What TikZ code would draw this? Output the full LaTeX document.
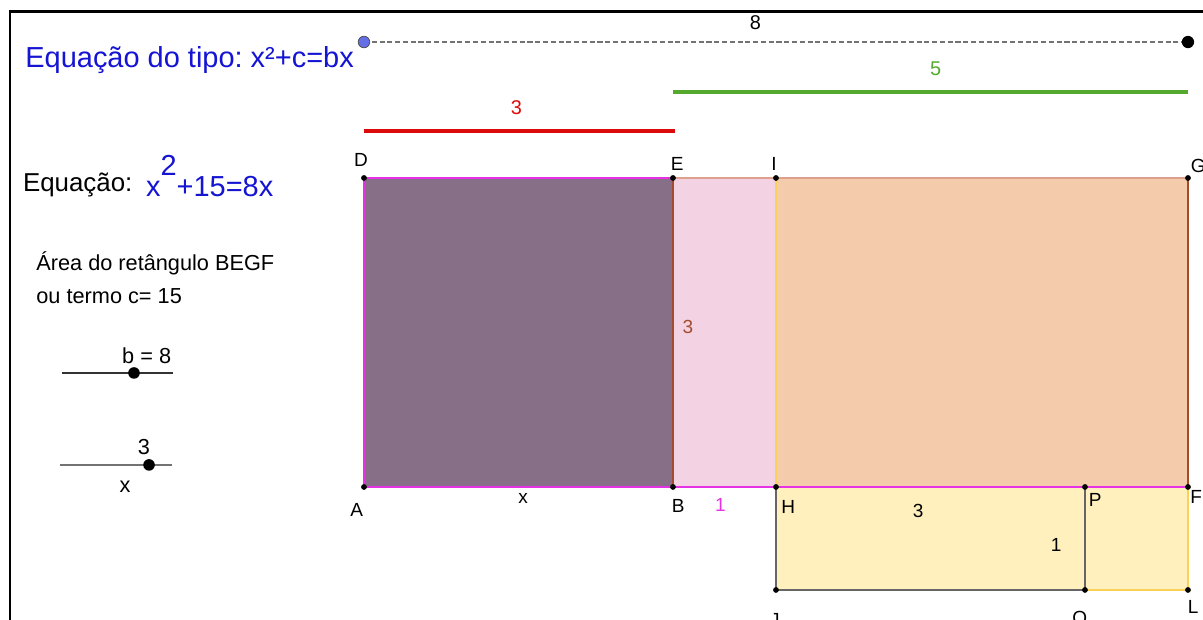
\documentclass[tikz,border=0pt]{standalone}
\usepackage{fontspec}
\setmainfont{Liberation Sans}
\usetikzlibrary{calc}
\frenchspacing

\definecolor{azul}{RGB}{20,20,210}
\definecolor{roxo}{RGB}{134,111,135}
\definecolor{rosa}{RGB}{243,210,228}
\definecolor{laranja}{RGB}{244,204,172}
\definecolor{amarelo}{RGB}{255,240,190}
\definecolor{magenta2}{RGB}{228,50,228}
\definecolor{marrom}{RGB}{165,75,45}
\definecolor{salmao}{RGB}{222,160,140}
\definecolor{ouro}{RGB}{250,210,90}
\definecolor{verde}{RGB}{85,170,45}
\definecolor{vermelho}{RGB}{220,10,10}
\definecolor{pontoazul}{RGB}{100,110,230}

\begin{document}
\begin{tikzpicture}[scale=2.0,
    rot/.style={inner sep=0pt,font=\fontsize{10.5}{12}\selectfont},
    aresta/.style={line width=0.8pt},
    texto/.style={inner sep=0pt,anchor=base west}]
    \useasboundingbox (-3.534,-1.282) rectangle (8.146,4.728);
    % moldura
    \draw[line width=1.6pt] (-3.437,-1.4) -- (-3.437,4.612) -- (8.3,4.612);

    % pontos da figura
    \coordinate (A) at (0,0);  \coordinate (B) at (3,0);  \coordinate (H) at (4,0);
    \coordinate (P) at (7,0);  \coordinate (F) at (8,0);
    \coordinate (D) at (0,3);  \coordinate (E) at (3,3);  \coordinate (I) at (4,3);
    \coordinate (G) at (8,3);
    \coordinate (J) at (4,-1); \coordinate (Q) at (7,-1); \coordinate (L) at (8,-1);

    % retangulos
    \fill[roxo] (A) rectangle (E);
    \fill[rosa] (B) rectangle (I);
    \fill[laranja] (H) rectangle (G);
    \fill[amarelo] (J) rectangle (P);
    \fill[amarelo] (Q) rectangle (F);
    \draw[aresta,gray!80!black] (H) -- (J) -- (Q) -- (P);
    \draw[aresta,ouro] (Q) -- (L) -- (F);
    \draw[aresta,ouro] (I) -- (H);
    \draw[aresta,salmao] (E) -- (I) -- (G);
    \draw[aresta,marrom] (G) -- (F);
    \draw[aresta,marrom] (E) -- (B);
    \draw[aresta,magenta2] (F) -- (A) -- (D) -- (E);
    \foreach \p in {A,B,H,P,F,D,E,I,G,J,Q,L}
        \fill (\p) circle (0.8pt);

    % segmentos 8, 5 e 3
    \coordinate (S1) at (0,4.32);
    \coordinate (S2) at (8,4.32);
    \draw[gray!90!black,line width=1.1pt,dash pattern=on 2.8pt off 1.5pt] (S1) -- node[rot,pos=0.475,above=6pt,text=black,font=\fontsize{11}{13}\selectfont] (l8) {8} (S2);
    \fill[pontoazul,draw=gray!60!black,line width=0.4pt] (S1) circle (1.6pt);
    \fill (S2) circle (1.7pt);
    \coordinate (V1) at (3,3.835);
    \coordinate (V2) at (8,3.835);
    \draw[verde,line width=1.7pt] (V1) -- node[rot,pos=0.51,above=8pt,font=\fontsize{11}{13}\selectfont] (l5) {5} (V2);
    \coordinate (R1) at (0,3.456);
    \coordinate (R2) at (3.02,3.456);
    \draw[vermelho,line width=2.2pt] (R1) -- node[rot,pos=0.49,above=8pt,text=vermelho,font=\fontsize{11}{13}\selectfont] (l3r) {3} (R2);

    % rotulos dos pontos
    \node[rot] (lD) at (-0.03,3.17) {D};
    \node[rot] (lE) at (3.04,3.14) {E};
    \node[rot] (lI) at (3.98,3.14) {I};
    \node[rot] (lG) at (8.10,3.12) {G};
    \node[rot] (lA) at (-0.07,-0.22) {A};
    \node[rot] (lB) at (3.05,-0.18) {B};
    \node[rot] (lH) at (4.12,-0.19) {H};
    \node[rot] (lP) at (7.10,-0.13) {P};
    \node[rot] (lF) at (8.08,-0.10) {F};
    \node[rot] (lJ) at (3.99,-1.29) {J};
    \node[rot] (lQ) at (6.95,-1.29) {Q};
    \node[rot] (lL) at (8.05,-1.165) {L};

    % medidas
    \node[rot] (lx) at (1.544,-0.11) {x};
    \node[rot,text=magenta2] (l1) at (3.46,-0.17) {1};
    \node[rot,text=marrom] (l3m) at (3.146,1.553) {3};
    \node[rot] (l3a) at (5.38,-0.23) {3};
    \node[rot] (l1a) at (6.72,-0.56) {1};

    % textos da esquerda
    \node[texto,text=azul,font=\fontsize{16}{19}\selectfont] (titulo) at (-3.291,4.068) {Equação do tipo: x²+c=bx};
    \node[texto,font=\fontsize{14.3}{17}\selectfont] (eq) at (-3.314,2.867) {Equação:};
    \node[texto,text=azul,font=\fontsize{16}{19}\selectfont] (eqb) at (-2.119,2.816) {x\raisebox{12pt}{2}+15=8x};
    \node[texto,font=\fontsize{12}{14}\selectfont] (area1) at (-3.184,2.10) {Área do retângulo BEGF};
    \node[texto,font=\fontsize{12}{14}\selectfont] (area2) at (-3.184,1.78) {ou termo c= 15};

    % controles deslizantes
    \coordinate (b1) at (-2.932,1.107);
    \coordinate (b2) at (-1.854,1.107);
    \draw[line width=0.7pt,black!80] (b1) -- (b2);
    \fill (-2.233,1.107) circle (1.6pt);
    \node[rot,font=\fontsize{12}{14}\selectfont] (lb) at (-2.11,1.27) {b = 8};
    \coordinate (x1) at (-2.951,0.214);
    \coordinate (x2) at (-1.864,0.214);
    \draw[line width=0.7pt,black!55] (x1) -- (x2);
    \fill (-2.087,0.214) circle (1.6pt);
    \node[rot,font=\fontsize{12}{14}\selectfont] (lxv) at (-2.136,0.39) {3};
    \node[rot,font=\fontsize{12}{14}\selectfont] (lxn) at (-2.32,0.0) {x};
\end{tikzpicture}
\end{document}
